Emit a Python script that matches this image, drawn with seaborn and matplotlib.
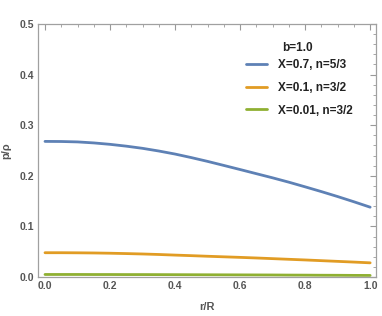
import pandas as pd
import numpy as np
import matplotlib.pyplot as plt
import seaborn as sns
from matplotlib.ticker import MultipleLocator

r = [0.0, 0.05, 0.1, 0.15, 0.2, 0.25, 0.3, 0.35, 0.4, 0.45, 0.5,
     0.55, 0.6, 0.65, 0.7, 0.75, 0.8, 0.85, 0.9, 0.95, 1.0]
p_x07 = [0.2680, 0.2678, 0.2670, 0.2650, 0.2622, 0.2586, 0.2543, 0.2490, 0.2430, 0.2360, 0.2285,
         0.2205, 0.2124, 0.2042, 0.1960, 0.1874, 0.1782, 0.1688, 0.1590, 0.1487, 0.1380]
p_x01 = [0.0480, 0.0480, 0.0478, 0.0475, 0.0470, 0.0463, 0.0455, 0.0445, 0.0433, 0.0422, 0.0410,
         0.0399, 0.0388, 0.0376, 0.0363, 0.0350, 0.0337, 0.0323, 0.0309, 0.0295, 0.0280]
p_x001 = [0.0050, 0.0050, 0.0050, 0.0049, 0.0049, 0.0048, 0.0048, 0.0047, 0.0046, 0.0045, 0.0044,
          0.0043, 0.0042, 0.0041, 0.0040, 0.0038, 0.0037, 0.0035, 0.0034, 0.0032, 0.0031]
labels = ['X=0.7, n=5/3', 'X=0.1, n=3/2', 'X=0.01, n=3/2']

df = pd.DataFrame({
    'r': r * 3,
    'p': p_x07 + p_x01 + p_x001,
    'series': [labels[0]] * len(r) + [labels[1]] * len(r) + [labels[2]] * len(r),
})

sns.set_style('white')
plt.rcParams['font.family'] = ['Liberation Sans', 'DejaVu Sans']

fig = plt.figure(figsize=(3.82, 3.16), dpi=100)
ax = fig.add_axes([0.0995, 0.1234, 0.8848, 0.8006])

palette = ['#5E81B5', '#E19C24', '#8FB032']
sns.lineplot(data=df, x='r', y='p', hue='series', palette=palette, linewidth=2.0, ax=ax)

ax.set_xlim(-0.0215, 1.018)
ax.set_ylim(0, 0.5)
ax.xaxis.set_major_locator(MultipleLocator(0.2))
ax.xaxis.set_minor_locator(MultipleLocator(0.05))
ax.yaxis.set_major_locator(MultipleLocator(0.1))
ax.yaxis.set_minor_locator(MultipleLocator(0.02))
ax.xaxis.set_major_formatter(plt.FuncFormatter(lambda v, _: f'{v:.1f}'))
ax.yaxis.set_major_formatter(plt.FuncFormatter(lambda v, _: f'{v:.1f}'))

ax.tick_params(which='both', direction='in', top=True, right=True, color='#999999',
               labelcolor='#555555', labelsize=7.5)
ax.tick_params(which='major', length=4, width=0.8, pad=3)
ax.tick_params(which='minor', length=2.2, width=0.6)
for lab in ax.get_xticklabels() + ax.get_yticklabels():
    lab.set_fontweight('bold')
for s in ax.spines.values():
    s.set_color('#a0a0a0')
    s.set_linewidth(0.9)

ax.set_xlabel('r/R', color='#555555', fontsize=8, fontweight='bold', labelpad=8)
ax.set_ylabel('p/ρ', color='#555555', fontsize=8, fontweight='bold', labelpad=6)

# legend title drawn separately: it sits closer to the entries than the entries to each other
ax.text(0.769, 0.905, 'b=1.0', transform=ax.transAxes, ha='center', va='center',
        fontsize=8.5, fontweight='bold', color='#222222')
leg = ax.legend(loc='upper left', bbox_to_anchor=(0.598, 0.884), frameon=False,
                fontsize=8.5, handlelength=1.8, handletextpad=0.9,
                labelspacing=0.9, borderpad=0)
for t in leg.get_texts():
    t.set_fontweight('bold')
    t.set_color('#222222')

plt.savefig('out.png', dpi=100)
